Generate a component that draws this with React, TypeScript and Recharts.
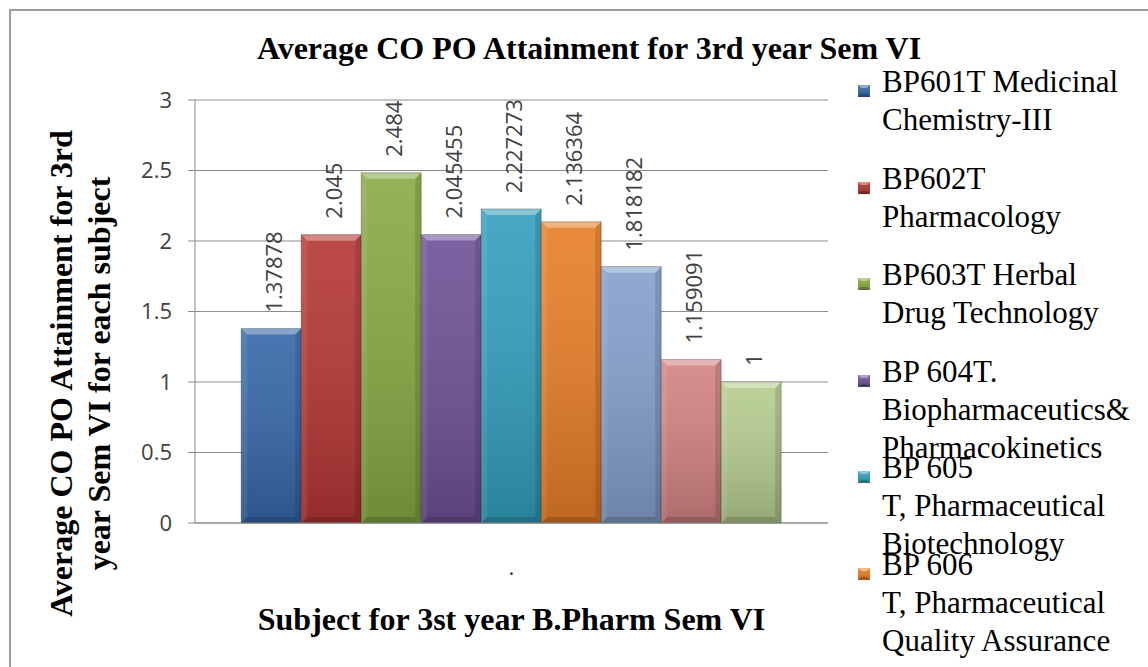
import React from 'react';
import { Bar, BarChart, CartesianGrid, LabelList, Legend, XAxis, YAxis } from 'recharts';

// one category on the x axis, nine subjects as series
const category = '.';
const seriesKeys = ['s1', 's2', 's3', 's4', 's5', 's6', 's7', 's8', 's9'];
const seriesNames = [
  'BP601T Medicinal\nChemistry-III',
  'BP602T\nPharmacology',
  'BP603T Herbal\nDrug Technology',
  'BP 604T.\nBiopharmaceutics&\nPharmacokinetics',
  'BP 605\nT, Pharmaceutical\nBiotechnology',
  'BP 606\nT, Pharmaceutical\nQuality Assurance',
  'BP607P',
  'BP608P',
  'BP609P',
];
const seriesValues = [1.37878, 2.045, 2.484, 2.045455, 2.227273, 2.136364, 1.818182, 1.159091, 1];
const seriesColors = [
  '#3567a8',
  '#b53634',
  '#88a943',
  '#6d5196',
  '#329fbd',
  '#e87e26',
  '#849fcc',
  '#d28382',
  '#b5cd8f',
];
const yTicks = [0, 0.5, 1, 1.5, 2, 2.5, 3];
// the legend box only had room for the first six entries
const legendCount = 6;

const chartTitle = 'Average CO PO Attainment for 3rd year Sem VI';
const xTitle = 'Subject for 3st year B.Pharm Sem VI';
const yTitleLines = ['Average CO PO Attainment for 3rd', 'year Sem VI for each subject'];

const row: Record<string, string | number> = { name: category };
seriesKeys.forEach((k, i) => {
  row[k] = seriesValues[i];
});
const data = [row];

const SERIF = '"Liberation Serif", "Times New Roman", serif';
const SANS = '"Open Sans", "Liberation Sans", sans-serif';
const AXIS_GREY = '#8c8c8c';

// bar with Excel-like bevel
function BevelBar(props: any) {
  const { x, y, width, height, fill } = props;
  if (!height || height <= 0) return null;
  const b = Math.min(6, height / 2);
  return (
    <g>
      <rect x={x} y={y} width={width} height={height} fill={fill} />
      <rect x={x} y={y} width={width} height={height} fill="url(#barShade)" />
      <polygon
        points={`${x},${y} ${x + width},${y} ${x + width - b},${y + b} ${x + b},${y + b}`}
        fill="#fff"
        fillOpacity={0.35}
      />
      <polygon
        points={`${x},${y} ${x + b},${y + b} ${x + b},${y + height - b} ${x},${y + height}`}
        fill="#fff"
        fillOpacity={0.08}
      />
      <polygon
        points={`${x + width},${y} ${x + width - b},${y + b} ${x + width - b},${y + height - b} ${x + width},${y + height}`}
        fill="#000"
        fillOpacity={0.12}
      />
      <polygon
        points={`${x},${y + height} ${x + b},${y + height - b} ${x + width - b},${y + height - b} ${x + width},${y + height}`}
        fill="#000"
        fillOpacity={0.15}
      />
      <rect x={x} y={y} width={width} height={height} fill="none" stroke="#000" strokeOpacity={0.25} />
    </g>
  );
}

function ValueLabel(props: any) {
  const { x, y, width, value } = props;
  const px = x + width / 2 + 11;
  const py = y - 16;
  return (
    <text
      x={px}
      y={py}
      transform={`rotate(-90 ${px} ${py})`}
      textAnchor="start"
      fontFamily={SANS}
      fontSize={22}
      fill="#404040"
    >
      {String(value)}
    </text>
  );
}

function YTitle(props: any) {
  const { x, y, height } = props.viewBox;
  const cy = y + height / 2 + 62;
  return (
    <g fontFamily={SERIF} fontWeight="bold" fontSize={32} fill="#000">
      {yTitleLines.map((line, i) => {
        const bx = x - 63 + i * 38;
        return (
          <text key={i} x={bx} y={cy} textAnchor="middle" transform={`rotate(-90 ${bx} ${cy})`}>
            {line}
          </text>
        );
      })}
    </g>
  );
}

function XTitle(props: any) {
  const { x, y, width } = props.viewBox;
  return (
    <text
      x={x + width / 2}
      y={y + 107}
      textAnchor="middle"
      fontFamily={SERIF}
      fontWeight="bold"
      fontSize={32}
      fill="#000"
    >
      {xTitle}
    </text>
  );
}

function LegendSwatch({ color }: { color: string }) {
  return (
    <svg width={12} height={12} style={{ position: 'absolute', left: 8, top: 22 }}>
      <rect x={0} y={0} width={12} height={12} fill={color} />
      <rect x={0} y={0} width={12} height={12} fill="url(#barShade)" />
      <polygon points="0,0 12,0 9,3 3,3" fill="#fff" fillOpacity={0.4} />
      <polygon points="0,12 3,9 9,9 12,12" fill="#000" fillOpacity={0.2} />
    </svg>
  );
}

function LegendBox() {
  return (
    <div style={{ position: 'relative', width: 300, height: 600 }}>
      {seriesNames.slice(0, legendCount).map((name, i) => (
        <div
          key={name}
          style={{ position: 'absolute', left: 0, top: i * 96.6, width: 300, height: 96.6 }}
        >
          <LegendSwatch color={seriesColors[i]} />
          <div
            style={{
              position: 'absolute',
              left: 32,
              top: 0,
              fontFamily: SERIF,
              fontSize: 31,
              lineHeight: '38px',
              whiteSpace: 'pre',
              color: '#000',
            }}
          >
            {name}
          </div>
        </div>
      ))}
    </div>
  );
}

export default function App() {
  return (
    <div
      style={{
        position: 'absolute',
        left: 0,
        top: 0,
        width: 1148,
        height: 667,
        overflow: 'hidden',
        background: '#fff',
      }}
    >
      <div
        style={{
          position: 'absolute',
          left: 9,
          top: 9,
          width: 1200,
          height: 720,
          border: '2px solid #9a9a9a',
        }}
      />
      <BarChart
        width={1148}
        height={667}
        data={data}
        margin={{ top: 100, right: 20, bottom: 84, left: 135 }}
        barCategoryGap="7.3%"
        barGap={0}
      >
        <defs>
          <linearGradient id="barShade" x1="0" y1="0" x2="0" y2="1">
            <stop offset="0%" stopColor="#fff" stopOpacity={0.1} />
            <stop offset="100%" stopColor="#000" stopOpacity={0.18} />
          </linearGradient>
        </defs>
        <text
          x={589}
          y={59}
          textAnchor="middle"
          fontFamily={SERIF}
          fontWeight="bold"
          fontSize={32}
          fill="#000"
        >
          {chartTitle}
        </text>
        <CartesianGrid vertical={false} stroke={AXIS_GREY} />
        <XAxis
          dataKey="name"
          height={60}
          stroke={AXIS_GREY}
          tickLine={false}
          tickSize={0}
          tickMargin={36}
          tick={{ fontFamily: SANS, fontSize: 22, fill: '#333' }}
          label={{ content: XTitle }}
        />
        <YAxis
          width={60}
          domain={[0, 3]}
          ticks={yTicks}
          stroke={AXIS_GREY}
          tickSize={7}
          tickMargin={16}
          tick={{ fontFamily: SANS, fontSize: 22, fill: '#404040' }}
          label={{ content: YTitle }}
        />
        <Legend
          layout="vertical"
          align="right"
          verticalAlign="top"
          wrapperStyle={{ left: 850, top: 63, width: 300, height: 600 }}
          content={() => <LegendBox />}
        />
        {seriesKeys.map((k, i) => (
          <Bar
            key={k}
            dataKey={k}
            name={seriesNames[i]}
            fill={seriesColors[i]}
            shape={BevelBar}
            isAnimationActive={false}
          >
            <LabelList dataKey={k} content={ValueLabel} />
          </Bar>
        ))}
      </BarChart>
    </div>
  );
}
